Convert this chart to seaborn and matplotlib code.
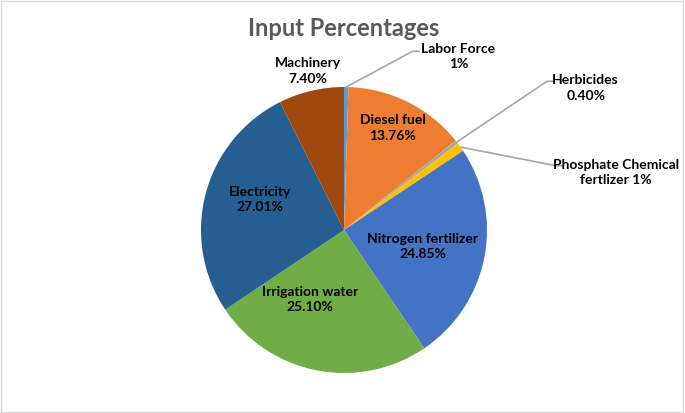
import numpy as np
import matplotlib.pyplot as plt
import seaborn as sns
from matplotlib.patches import Rectangle

# data (clockwise from 12 o'clock)
inputs = ["Labor Force", "Diesel fuel", "Herbicides", "Phosphate Chemical\nfertlizer",
          "Nitrogen fertilizer", "Irrigation water", "Electricity", "Machinery"]
shares = [0.5, 13.76, 0.40, 1.0, 24.85, 25.10, 27.01, 7.40]
share_labels = ["1%", "13.76%", "0.40%", "1%", "24.85%", "25.10%", "27.01%", "7.40%"]

colors = ["#5B9BD5", "#ED7D31", "#A5A5A5", "#FFC000",
          "#4472C4", "#70AD47", "#255E91", "#9E480E"]

sns.set_theme(style="white")
plt.rcParams["font.family"] = ["Lato", "DejaVu Sans"]

fig = plt.figure(figsize=(6.85, 4.14), dpi=100)
ax = fig.add_axes([0, 0, 1, 1])

wedges, _ = ax.pie(shares, colors=colors, startangle=90, counterclock=False,
                   wedgeprops=dict(linewidth=0))

# pie centre at (344, 231) px, radius 143 px
ax.set_xlim(-344 / 143, (685 - 344) / 143)
ax.set_ylim(-(414 - 231) / 143, 231 / 143)
ax.set_aspect("auto")
ax.axis("off")

# label placement (pie units); None = inside, else elbow point for leader
label_pos = {
    "Labor Force": (0.80, 1.22, (0.48, 1.25)),
    "Diesel fuel": (0.34, 0.72, None),
    "Herbicides": (1.69, 1.00, (1.42, 1.04)),
    "Phosphate Chemical\nfertlizer": (1.90, 0.41, (1.48, 0.45)),
    "Nitrogen fertilizer": (0.55, -0.11, None),
    "Irrigation water": (-0.24, -0.48, None),
    "Electricity": (-0.59, 0.22, None),
    "Machinery": (-0.25, 1.12, None),
}

for w, name, lab in zip(wedges, inputs, share_labels):
    tx, ty, elbow = label_pos[name]
    if name.startswith("Phosphate"):
        txt = name + " " + lab
    else:
        txt = name + "\n" + lab
    ax.text(tx, ty, txt, ha="center", va="center", fontsize=10,
            fontweight="bold", color="#000000", linespacing=1.35)
    if elbow is not None:
        mid = np.deg2rad((w.theta1 + w.theta2) / 2)
        x0, y0 = np.cos(mid), np.sin(mid)
        ex, ey = elbow
        ax.plot([x0, ex, ex + 0.05], [y0, ey, ey], color="#A6A6A6", lw=1.2,
                solid_capstyle="butt")

fig.text(344 / 685, 1 - 28 / 414, "Input Percentages", ha="center", va="center",
         fontsize=17, fontweight="bold", color="#595959")

fig.patches.append(Rectangle((0.002, 0.003), 0.995, 0.993, transform=fig.transFigure,
                             fill=False, edgecolor="#D9D9D9", lw=1))

fig.savefig("out.png", dpi=100)
